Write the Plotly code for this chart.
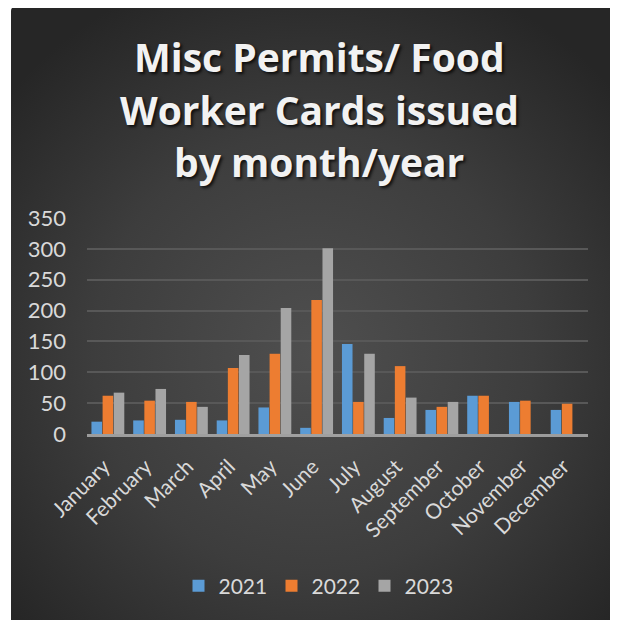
import base64
import plotly.graph_objects as go

months = ["January", "February", "March", "April", "May", "June", "July",
          "August", "September", "October", "November", "December"]
years = ["2021", "2022", "2023"]
v2021 = [20, 22, 23, 22, 43, 10, 146, 26, 39, 62, 52, 39]
v2022 = [62, 54, 52, 107, 130, 217, 52, 110, 44, 62, 54, 49]
v2023 = [67, 73, 44, 128, 204, 301, 130, 59, 52, 0, 0, 0]
y_ticks = [0, 50, 100, 150, 200, 250, 300, 350]
title_lines = ["Misc Permits/ Food", "Worker Cards issued", "by month/year"]

colors = ["#5B9BD5", "#ED7D31", "#A5A5A5"]
series = [v2021, v2022, v2023]

OFF = 8  # page body margin offset of the rendered figure
W, H = 618, 620
ML, MT = 87 - OFF, 218 - OFF
PW, PH = 501, 216
MR, MB = W - ML - PW, H - MT - PH

def px_to_paper_x(px):
    # px: target screen pixel
    return (px - OFF - ML) / PW

def px_to_paper_y(py):
    return (MT + PH - (py - OFF)) / PH

svg = f'''<svg xmlns="http://www.w3.org/2000/svg" width="{W}" height="{H}" viewBox="0 0 {W} {H}" preserveAspectRatio="none">
<defs><radialGradient id="g" gradientUnits="userSpaceOnUse" cx="305" cy="345" r="400">
<stop offset="0" stop-color="#4f4f4f"/><stop offset="0.55" stop-color="#3d3d3d"/><stop offset="1" stop-color="#262626"/></radialGradient></defs>
<rect x="0" y="0" width="{W}" height="{H}" fill="#ffffff"/>
<path d="M3,{H} L3,3 Q3,-1 7,-1 L{W},-1 L{W},{H} Z" fill="url(#g)"/>
</svg>'''
src = "data:image/svg+xml;base64," + base64.b64encode(svg.encode()).decode()

fig = go.Figure()
for name, vals, c in zip(years, series, colors):
    fig.add_trace(go.Bar(x=months, y=vals, name=name, marker=dict(color=c, line=dict(width=0))))

font_family = "Lato, Calibri, sans-serif"
title_family = "Open Sans, Calibri, sans-serif"
txt = "#d9d9d9"

annotations = []
for i, line in enumerate(title_lines):
    annotations.append(dict(
        text=f"<b>{line}</b>", x=px_to_paper_x(319), y=px_to_paper_y(57 + 52 * i),
        xref="paper", yref="paper", xanchor="center", yanchor="middle", showarrow=False,
        font=dict(family=title_family, size=39, color="#f2f2f2",
                  shadow="2px 2px 3px rgba(0,0,0,0.75)")))

fig.update_layout(
    width=W, height=H,
    margin=dict(l=ML, r=MR, t=MT, b=MB, autoexpand=False),
    paper_bgcolor="#262626", plot_bgcolor="rgba(0,0,0,0)",
    barmode="group", bargap=0.2, bargroupgap=0.05,
    font=dict(family=font_family, size=21, color=txt),
    images=[dict(source=src, xref="paper", yref="paper",
                 x=-ML / PW, y=(MT + PH) / PH,
                 sizex=W / PW, sizey=H / PH, sizing="stretch",
                 xanchor="left", yanchor="top", layer="below")],
    annotations=annotations,
    showlegend=True,
    legend=dict(orientation="h", x=px_to_paper_x(318), xanchor="center",
                y=px_to_paper_y(586), yanchor="middle",
                font=dict(size=21, color=txt), bgcolor="rgba(0,0,0,0)",
                itemwidth=30, entrywidth=48, entrywidthmode="pixels",
                traceorder="normal"),
    xaxis=dict(tickangle=-45, showgrid=False, showline=True,
               linecolor="rgba(190,190,190,0.75)", linewidth=3,
               ticks="", tickfont=dict(size=21, color=txt), automargin=False,
               ticklabelstandoff=9, ticklabelshift=-4),
    yaxis=dict(range=[0, 350], tickvals=y_ticks, showgrid=True,
               gridcolor="#585858", gridwidth=2, zeroline=False,
               ticks="", ticklabelstandoff=20, tickfont=dict(size=22, color=txt),
               automargin=False),
)

fig.write_html("out.html")
